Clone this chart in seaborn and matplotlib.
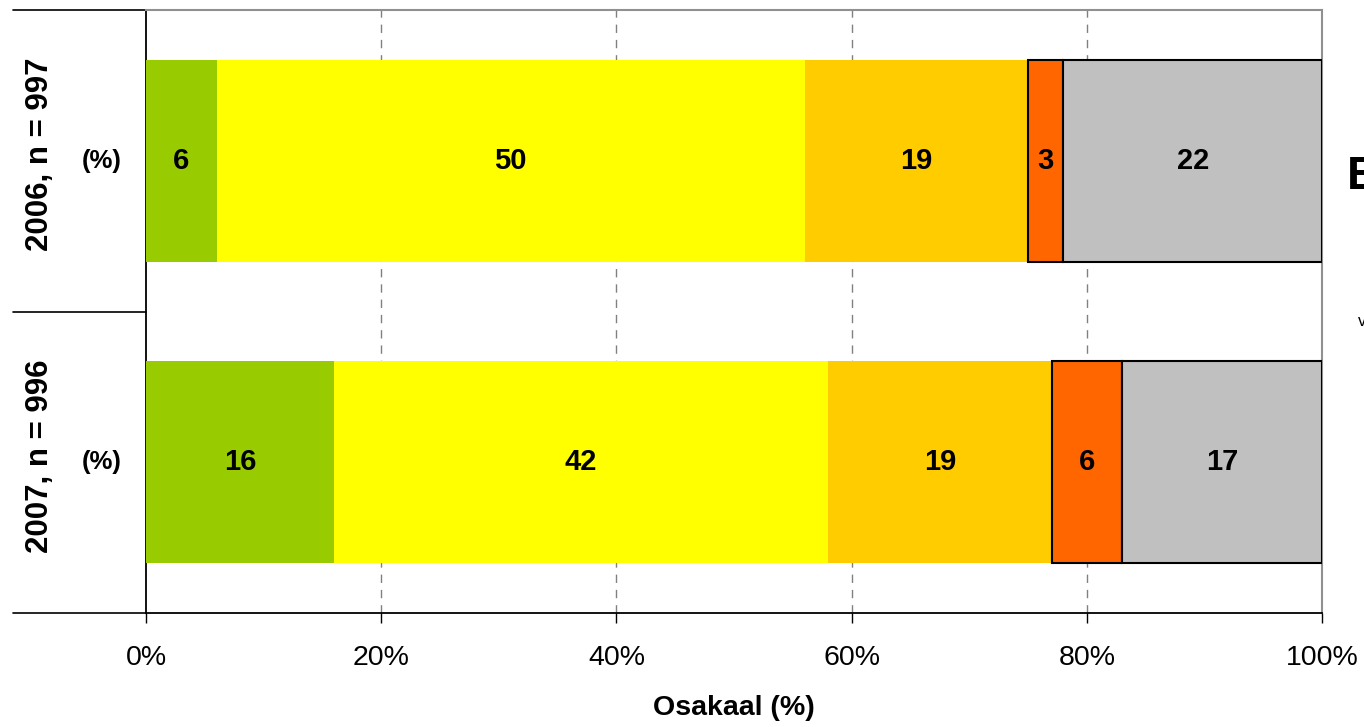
import seaborn as sns
import numpy as np
from matplotlib import pyplot as plt
from matplotlib.lines import Line2D

# data
years = ['2006, n = 997', '2007, n = 996']
seg_values = [
    [6, 16],
    [50, 42],
    [19, 19],
    [3, 6],
    [22, 17],
]
seg_colors = ['#99CC00', '#FFFF00', '#FFCC00', '#FF6600', '#C0C0C0']
seg_edged = [False, False, False, True, True]
xticks = [0, 20, 40, 60, 80, 100]

sns.set_theme(style="white")
plt.rcParams['font.family'] = ['Liberation Sans', 'DejaVu Sans']
plt.rcParams['text.color'] = 'black'
plt.rcParams['axes.labelcolor'] = 'black'
plt.rcParams['xtick.color'] = 'black'
plt.rcParams['ytick.color'] = 'black'

fig = plt.figure(figsize=(13.64, 7.27), dpi=100)
ax = fig.add_axes([146 / 1364, 1 - 613 / 727, 1176 / 1364, 603 / 727])

left = np.zeros(len(years))
for vals, col, edged in zip(seg_values, seg_colors, seg_edged):
    sns.barplot(x=vals, y=years, orient='h', color=col, saturation=1, width=0.67,
                edgecolor='black' if edged else 'none', linewidth=1.5 if edged else 0,
                ax=ax, zorder=3)
    for patch, l in zip(ax.containers[-1], left):
        patch.set_x(l)
    for i, (v, l) in enumerate(zip(vals, left)):
        ax.text(l + v / 2, i, str(v), ha='center', va='center', fontsize=21,
                fontweight='bold', color='black', zorder=4)
    left = left + np.array(vals)

ax.set_xlim(0, 100)
ax.set_ylim(1.5, -0.5)
ax.set_xticks(xticks)
ax.set_xticklabels([f'{t}%' for t in xticks], fontsize=20.5)
ax.set_yticks([])
ax.set_ylabel('')
ax.set_xlabel('Osakaal (%)', fontsize=20.5, fontweight='bold', labelpad=17)
ax.tick_params(axis='x', direction='out', length=7, width=1, color='black',
               pad=16, bottom=True)

for x in xticks[1:-1]:
    ax.axvline(x, color='#808080', linestyle=(0, (6, 5)), linewidth=1, zorder=1)

for side in ['left', 'bottom']:
    ax.spines[side].set_color('black')
    ax.spines[side].set_linewidth(1.3)
for side in ['top', 'right']:
    ax.spines[side].set_color('#909090')
    ax.spines[side].set_linewidth(1.5)

# category labels on the left
x0 = (13 - 146) / 1176
for yv in [-0.5, 0.5, 1.5]:
    ax.add_line(Line2D([x0, 0], [yv, yv], color='black', linewidth=1.2,
                       transform=ax.get_yaxis_transform(), clip_on=False))
for i, lab in enumerate(years):
    ax.text((40 - 146) / 1176, i - 0.02, lab, rotation=90, ha='center', va='center',
            fontsize=22.5, fontweight='bold', transform=ax.get_yaxis_transform())
    ax.text((102 - 146) / 1176, i, '(%)', ha='center', va='center',
            fontsize=18.5, fontweight='bold', transform=ax.get_yaxis_transform())

# cut-off legend remnants at the right edge
fig.text(1347 / 1364, 1 - 177 / 727, 'E', ha='left', va='center', fontsize=34,
         fontweight='bold')
fig.text(1358 / 1364, 1 - 322 / 727, 'v', ha='left', va='center', fontsize=12)

fig.savefig('out.png', dpi=100)
